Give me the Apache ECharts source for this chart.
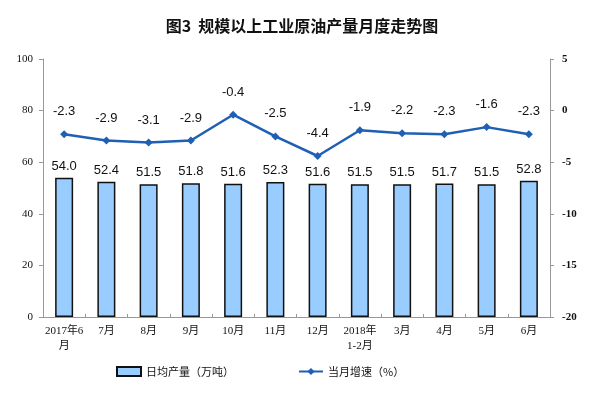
<!DOCTYPE html>
<html><head><meta charset="utf-8">
<script src="https://cdn.jsdelivr.net/npm/echarts@6/dist/echarts.min.js"></script>
<style>html,body{margin:0;padding:0;background:#fff}#c{width:604px;height:393px}</style>
</head><body><div id="c"></div>
<script>
var categories = ['2017年6\n月','7月','8月','9月','10月','11月','12月','2018年\n1-2月','3月','4月','5月','6月'];
var dailyOutput = [54.0,52.4,51.5,51.8,51.6,52.3,51.6,51.5,51.5,51.7,51.5,52.8];
var monthlyGrowth = [-2.3,-2.9,-3.1,-2.9,-0.4,-2.5,-4.4,-1.9,-2.2,-2.3,-1.6,-2.3];
var leftTicks = [0,20,40,60,80,100];
var rightTicks = [-20,-15,-10,-5,0,5];

var chart = echarts.init(document.getElementById('c'));
var serif = '"Liberation Serif","Times New Roman","Noto Sans CJK SC",serif';
var sans = 'Arial,"Liberation Sans","Noto Sans CJK SC",sans-serif';
chart.setOption({
  animation:false,
  title:{text:'图3  规模以上工业原油产量月度走势图',left:'center',top:13,
    textStyle:{fontFamily:'"Noto Sans CJK SC",sans-serif',fontSize:16,fontWeight:'bold',color:'#111'}},
  grid:{left:43,right:54,top:59,bottom:76},
  legend:{bottom:11,left:111,itemGap:64,itemWidth:24,itemHeight:9,
    textStyle:{fontFamily:'"Noto Sans CJK SC",sans-serif',fontSize:11,color:'#111'},
    data:[{name:'日均产量（万吨）',icon:'rect'},{name:'当月增速（%）'}]},
  xAxis:{type:'category',data:categories,boundaryGap:true,
    axisLine:{lineStyle:{color:'#999',width:1}},
    axisTick:{show:true,inside:true,length:3,lineStyle:{color:'#999'}},
    axisLabel:{fontFamily:serif,fontSize:11,color:'#111',interval:0,lineHeight:15,margin:7}},
  yAxis:[
    {type:'value',min:0,max:100,interval:20,
     axisLine:{show:true,lineStyle:{color:'#999'}},
     axisTick:{show:true,length:4,lineStyle:{color:'#999'}},
     splitLine:{show:false},
     axisLabel:{fontFamily:serif,fontSize:11,color:'#111',margin:10,
       formatter:function(v){return leftTicks.indexOf(v)>=0?String(v):'';}}},
    {type:'value',min:-20,max:5,interval:5,
     axisLine:{show:true,lineStyle:{color:'#999'}},
     axisTick:{show:true,length:4,lineStyle:{color:'#999'}},
     splitLine:{show:false},
     axisLabel:{fontFamily:serif,fontSize:11,color:'#111',fontWeight:'bold',margin:12,
       formatter:function(v){return rightTicks.indexOf(v)>=0?String(v):'';}}}
  ],
  series:[
    {name:'日均产量（万吨）',type:'bar',data:dailyOutput,barWidth:18,yAxisIndex:0,
     itemStyle:{color:'#99CCFF',borderColor:'#111',borderWidth:1.5},
     label:{show:true,position:'top',distance:5,fontFamily:sans,fontSize:13,color:'#111',
       formatter:function(p){return p.value.toFixed(1);}}},
    {name:'当月增速（%）',type:'line',data:monthlyGrowth,yAxisIndex:1,
     symbol:'diamond',symbolSize:8,
     lineStyle:{color:'#1F5FB4',width:2.5},itemStyle:{color:'#1F5FB4'},
     label:{show:true,position:'top',distance:12,fontFamily:sans,fontSize:13,color:'#111',
       formatter:function(p){return p.value.toFixed(1);}}}
  ]
});
</script></body></html>
